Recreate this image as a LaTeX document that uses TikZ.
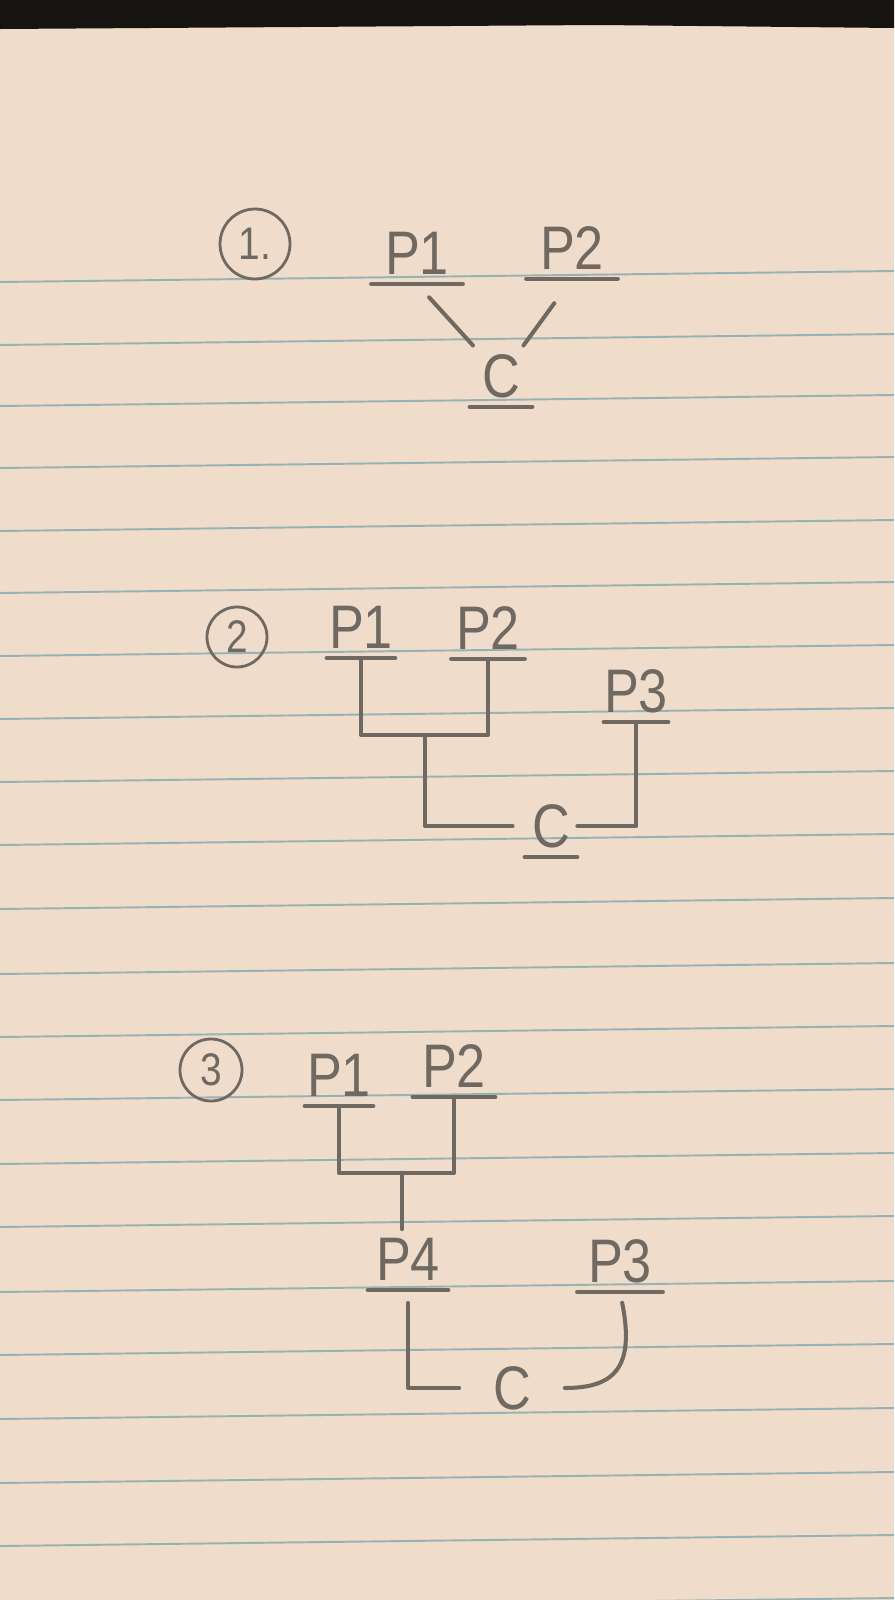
\documentclass[tikz,border=0pt]{standalone}
\usepackage{fontspec}
\usepackage{tikz}
\newfontfamily\handfont[FakeStretch=0.85]{Liberation Sans}
\definecolor{paper}{RGB}{239,220,203}
\definecolor{linecol}{RGB}{150,178,178}
\definecolor{pencil}{RGB}{112,105,98}
\definecolor{backdrop}{RGB}{22,19,16}
\newdimen\pxu
\pxu=0.02cm

\begin{document}
\begin{tikzpicture}[x=0.02cm, y=-0.02cm,
	pencil/.style={draw=pencil, line width=2.3pt, line cap=round, line join=round},
	ruleline/.style={draw=linecol, line width=1.1pt},
	pname/.style={font=\handfont\fontsize{35}{40}\selectfont, text=pencil, inner xsep=0pt, inner ysep=5.1pt,
		text depth=0pt, minimum width=#1\pxu, anchor=south,
		append after command={(\tikzlastnode.south west) edge[pencil] (\tikzlastnode.south east)}},
	cname/.style={font=\handfont\fontsize{35}{40}\selectfont, text=pencil, inner sep=0pt, text depth=0pt, minimum width=#1\pxu},
	numcirc/.style={circle, draw=pencil, line width=1.6pt, text=pencil, inner sep=0pt,
		font=\handfont\fontsize{26}{30}\selectfont, minimum size=#1\pxu}]
	\useasboundingbox (0,0) rectangle (894,1600);
	\fill[paper] (0,0) rectangle (894,1600);
	\fill[backdrop] (0,0) -- (894,0) -- (894,28) -- (600,25) -- (300,27) -- (0,29) -- cycle;
	\foreach \yl in {282,345,406,468,531,593,656,719,782,845,909,974,1037,1100,1164,1227,1292,1355,1419,1483,1546,1609}
		\draw[ruleline] (0,\yl) -- (894,\yl-11);

	\node (n1) at (255,244) [numcirc=70] {1.};
	\node (p1a) at (417,284) [pname=91] {P1};
	\node (p2a) at (572,279) [pname=91] {P2};
	\node (ca) at (501,407) [pname=62] {C};
	\draw[pencil] (p1a.south) edge[shorten <=18\pxu] (ca);
	\draw[pencil] (p2a.south) edge[shorten <=30\pxu] (ca);

	\node (n2) at (237,637) [numcirc=60] {2};
	\node (p1b) at (361,658) [pname=68] {P1};
	\node (p2b) at (488,659) [pname=73] {P2};
	\node (p3b) at (636,722) [pname=63] {P3};
	\node (cb) at (551,857) [pname=52] {C};
	\coordinate (j2) at (425,735);
	\draw[pencil] (p1b.south) |- (j2) -| (p2b.south);
	\draw[pencil, shorten >=12\pxu] (j2) |- (cb.west);
	\draw[pencil] (p3b.south) |- (cb.east);

	\node (n3) at (211,1070) [numcirc=62] {3};
	\node (p1c) at (339,1106) [pname=68] {P1};
	\node (p2c) at (454,1097) [pname=82] {P2};
	\node (p4c) at (408,1290) [pname=80] {P4};
	\node (p3c) at (620,1292) [pname=85] {P3};
	\node (cc) at (512,1388) [cname=105] {C};
	\coordinate (j3) at (402,1173);
	\draw[pencil] (p1c.south) |- (j3) -| (p2c.south);
	\draw[pencil] (j3) -- (j3 |- p4c.north);
	\draw[pencil, shorten <=13\pxu] (p4c.south) |- (cc.west);
	\draw[pencil, shorten <=11\pxu] (p3c.south) .. controls +(15,75) and +(50,0) .. (cc.east);
\end{tikzpicture}
\end{document}
